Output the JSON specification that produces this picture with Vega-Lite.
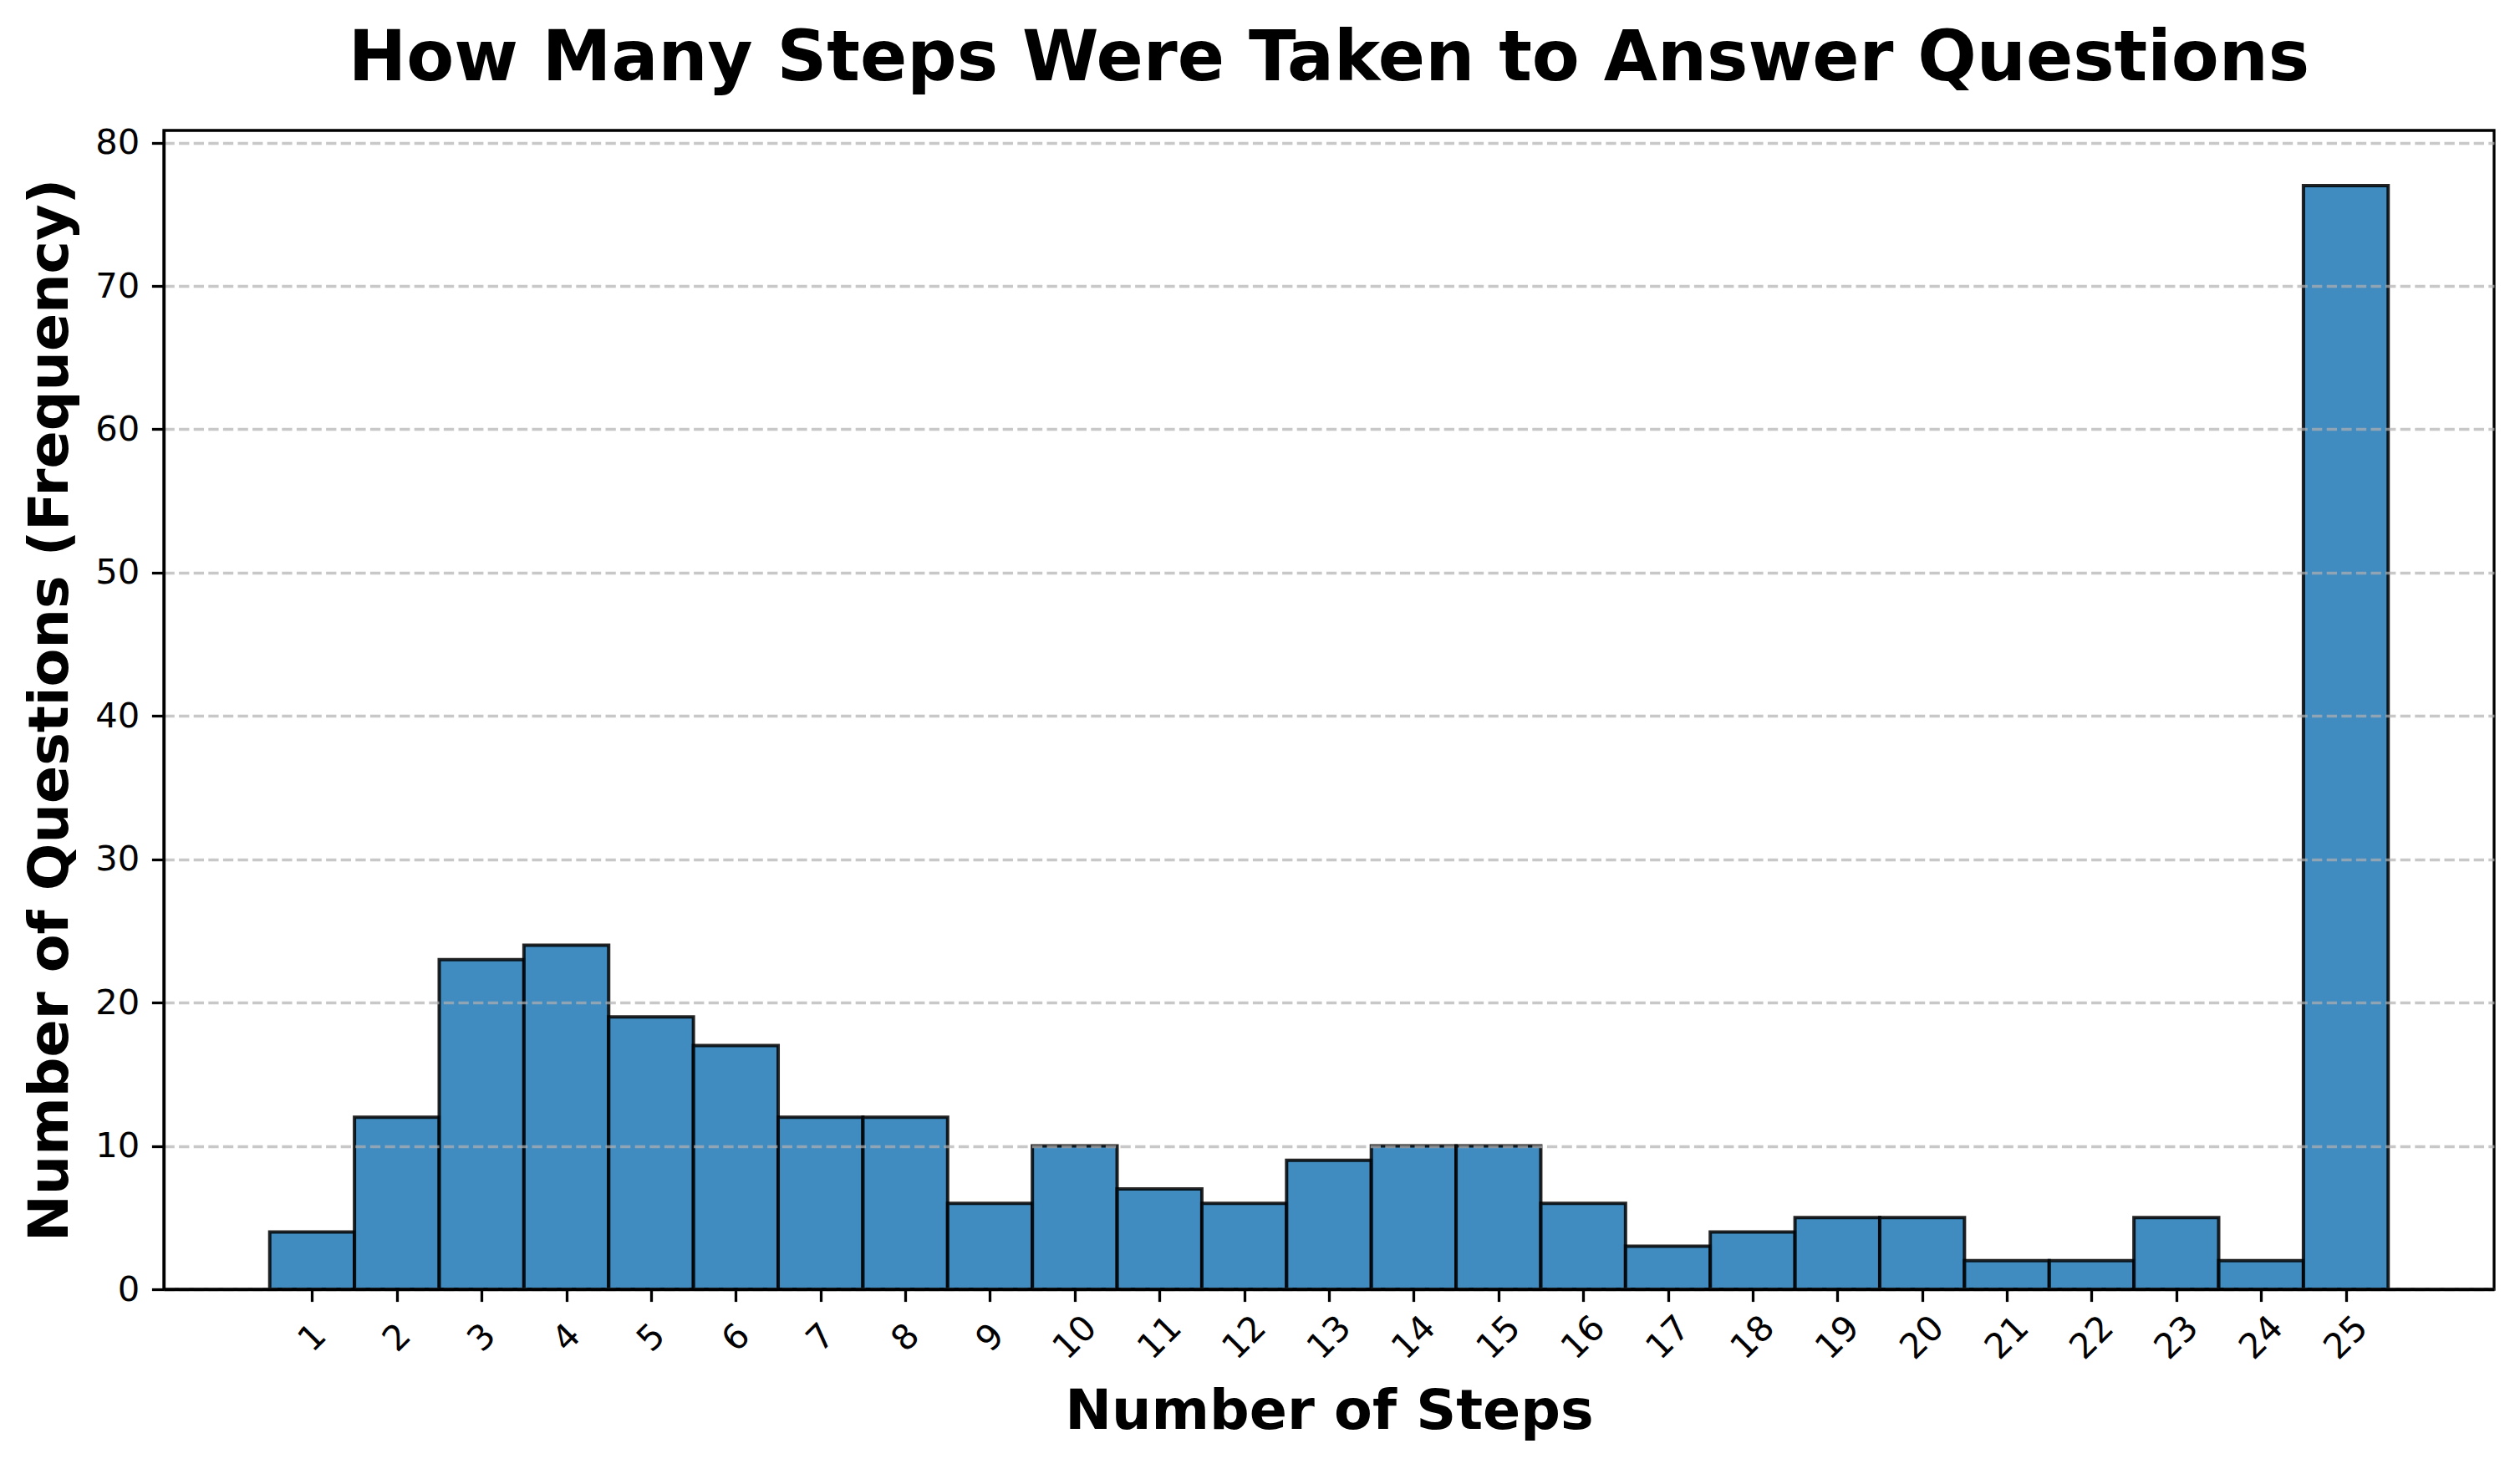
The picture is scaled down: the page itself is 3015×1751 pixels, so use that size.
{
  "$schema": "https://vega.github.io/schema/vega-lite/v6.json",
  "width": 2788,
  "height": 1386,
  "autosize": {"type": "none"},
  "padding": {"left": 196, "top": 156, "right": 31, "bottom": 209},
  "background": "white",
  "config": {
    "view": {"stroke": "black", "strokeWidth": 3.3},
    "font": "DejaVu Sans"
  },
  "title": {
    "text": "How Many Steps Were Taken to Answer Questions",
    "fontSize": 83,
    "fontWeight": "bold",
    "font": "DejaVu Sans",
    "color": "black",
    "anchor": "middle",
    "frame": "group",
    "baseline": "alphabetic",
    "offset": -28
  },
  "data": {
    "values": [
      {"step": 1, "bin_start": 0.5, "bin_end": 1.5, "count": 4},
      {"step": 2, "bin_start": 1.5, "bin_end": 2.5, "count": 12},
      {"step": 3, "bin_start": 2.5, "bin_end": 3.5, "count": 23},
      {"step": 4, "bin_start": 3.5, "bin_end": 4.5, "count": 24},
      {"step": 5, "bin_start": 4.5, "bin_end": 5.5, "count": 19},
      {"step": 6, "bin_start": 5.5, "bin_end": 6.5, "count": 17},
      {"step": 7, "bin_start": 6.5, "bin_end": 7.5, "count": 12},
      {"step": 8, "bin_start": 7.5, "bin_end": 8.5, "count": 12},
      {"step": 9, "bin_start": 8.5, "bin_end": 9.5, "count": 6},
      {"step": 10, "bin_start": 9.5, "bin_end": 10.5, "count": 10},
      {"step": 11, "bin_start": 10.5, "bin_end": 11.5, "count": 7},
      {"step": 12, "bin_start": 11.5, "bin_end": 12.5, "count": 6},
      {"step": 13, "bin_start": 12.5, "bin_end": 13.5, "count": 9},
      {"step": 14, "bin_start": 13.5, "bin_end": 14.5, "count": 10},
      {"step": 15, "bin_start": 14.5, "bin_end": 15.5, "count": 10},
      {"step": 16, "bin_start": 15.5, "bin_end": 16.5, "count": 6},
      {"step": 17, "bin_start": 16.5, "bin_end": 17.5, "count": 3},
      {"step": 18, "bin_start": 17.5, "bin_end": 18.5, "count": 4},
      {"step": 19, "bin_start": 18.5, "bin_end": 19.5, "count": 5},
      {"step": 20, "bin_start": 19.5, "bin_end": 20.5, "count": 5},
      {"step": 21, "bin_start": 20.5, "bin_end": 21.5, "count": 2},
      {"step": 22, "bin_start": 21.5, "bin_end": 22.5, "count": 2},
      {"step": 23, "bin_start": 22.5, "bin_end": 23.5, "count": 5},
      {"step": 24, "bin_start": 23.5, "bin_end": 24.5, "count": 2},
      {"step": 25, "bin_start": 24.5, "bin_end": 25.5, "count": 77}
    ]
  },
  "mark": {
    "type": "bar",
    "fill": "#1f77b4",
    "fillOpacity": 0.85,
    "stroke": "black",
    "strokeOpacity": 0.85,
    "strokeWidth": 4
  },
  "encoding": {
    "x": {
      "field": "bin_start",
      "type": "quantitative",
      "scale": {"domain": [-0.75, 26.75], "nice": false, "zero": false},
      "axis": {
        "title": "Number of Steps",
        "titleFontSize": 66.7,
        "titleFontWeight": "bold",
        "titleColor": "black",
        "titleFont": "DejaVu Sans",
        "titleBaseline": "alphabetic",
        "titleY": 166,
        "values": [1,2,3,4,5,6,7,8,9,10,11,12,13,14,15,16,17,18,19,20,21,22,23,24,25],
        "labelAngle": -45,
        "labelAlign": "center",
        "labelBaseline": "middle",
        "labelPadding": 43,
        "labelFontSize": 41.7,
        "labelColor": "black",
        "labelFont": "DejaVu Sans",
        "labelOverlap": false,
        "labelFlush": false,
        "tickColor": "black",
        "tickWidth": 3.3,
        "tickSize": 14.6,
        "domainColor": "black",
        "domainWidth": 3.3,
        "grid": false,
        "zindex": 2
      }
    },
    "x2": {"field": "bin_end"},
    "y": {
      "field": "count",
      "type": "quantitative",
      "scale": {"domain": [0, 80.85], "nice": false},
      "axis": {
        "title": "Number of Questions (Frequency)",
        "titleFontSize": 66.7,
        "titleFontWeight": "bold",
        "titleColor": "black",
        "titleFont": "DejaVu Sans",
        "titleAngle": -90,
        "titleAlign": "center",
        "titleBaseline": "alphabetic",
        "titleX": -116,
        "titleY": 693,
        "values": [0,10,20,30,40,50,60,70,80],
        "labelFontSize": 41.7,
        "labelColor": "black",
        "labelFont": "DejaVu Sans",
        "labelPadding": 14.6,
        "labelOverlap": false,
        "labelFlush": false,
        "tickColor": "black",
        "tickWidth": 3.3,
        "tickSize": 14.6,
        "domainColor": "black",
        "domainWidth": 3.3,
        "grid": true,
        "gridColor": "#b0b0b0",
        "gridOpacity": 0.7,
        "gridDash": [12.3, 5.3],
        "gridWidth": 3.3,
        "zindex": 1
      }
    },
    "y2": {"datum": 0}
  }
}
